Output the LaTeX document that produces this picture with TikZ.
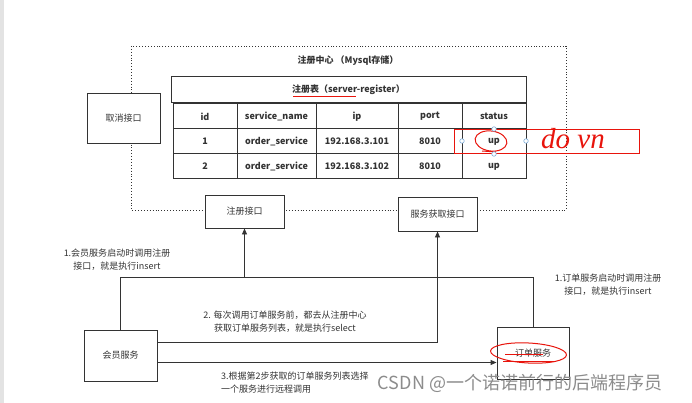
\documentclass[tikz,border=0pt]{standalone}
\usepackage{fontspec}
\setmainfont{Noto Sans CJK SC}
\newfontfamily\handfont{Liberation Serif}
\usetikzlibrary{arrows.meta,positioning}
\definecolor{LineGray}{HTML}{333333}
\definecolor{MarkRed}{HTML}{E8140C}
\definecolor{HandleBlue}{HTML}{7FAEDB}
\definecolor{WaterGray}{HTML}{8C8C8C}

\begin{document}
\begin{tikzpicture}[
    x=1pt, y=-1pt,
    box/.style={
      draw=LineGray,
      line width=0.9pt,
      fill=white,
      inner sep=0pt,
      align=center,
      text=LineGray,
      font=\fontsize{9}{11}\selectfont
    },
    cell/.style={
      draw=LineGray,
      line width=1pt,
      minimum height=25pt,
      inner sep=0pt,
      text=LineGray,
      font=\bfseries\fontsize{9}{11}\selectfont
    },
    note/.style={
      align=center,
      inner sep=0pt,
      text=LineGray,
      font=\fontsize{9}{13}\selectfont
    },
    arrow/.style={
      -{Triangle[length=6pt,width=5pt]},
      line width=0.9pt,
      color=LineGray
    },
    link/.style={
      line width=0.9pt,
      color=LineGray
    },
    redmark/.style={
      draw=MarkRed,
      line width=1pt
    },
    handle/.style={
      circle,
      draw=HandleBlue,
      fill=white,
      line width=0.6pt,
      inner sep=0pt,
      minimum size=4.5pt
    }
  ]

  \useasboundingbox (0,0) rectangle (692,403);
  \fill[gray!22] (0,0) rectangle (4,403);

  % Registry frame
  \draw[dotted, line width=0.9pt, color=LineGray] (131,46) rectangle (566,210);
  \node[font=\bfseries\fontsize{9}{11}\selectfont, text=LineGray] (title) at (348,61) {注册中心 （Mysql存储）};

  % Table
  \node[cell, minimum width=355pt, minimum height=26pt] (tbl) at (348.5,90) {注册表（server-register）};
  \foreach \col/\cx/\w/\head/\va/\vb in {
      id/205/64/id/1/2,
      name/276.5/79/service\_name/order\_service/order\_service,
      ip/357/82/ip/192.168.3.101/192.168.3.102,
      port/430/64/port/8010/8010,
      status/494/64/status/up/up}{
    \node[cell, minimum width=\w pt] (\col-h) at (\cx,116.5) {\head};
    \node[cell, minimum width=\w pt] (\col-1) at (\cx,141.5) {\va};
    \node[cell, minimum width=\w pt] (\col-2) at (\cx,166.5) {\vb};
  }

  % Interfaces
  \node[box, minimum width=73pt, minimum height=50pt] (cancel) at (123.5,118) {取消接口};
  \node[box, minimum width=79pt, minimum height=33pt] (reg) at (244.5,211.5) {注册接口};
  \node[box, minimum width=79pt, minimum height=34pt] (fetch) at (437.5,214) {服务获取接口};

  % Services
  \node[box, minimum width=73pt, minimum height=51pt] (member) at (120.5,355.5) {会员服务};
  \node[box, minimum width=72pt, minimum height=52pt] (order) at (533,353) {订单服务};

  % Connectors
  \coordinate (join) at (reg.south |- 0,277);
  \draw[arrow] (member.north) |- (join) -- (reg.south);
  \draw[link] (order.north) |- (join);
  \draw[arrow] ([yshift=13pt]member.east) -| (fetch.south);
  \draw[arrow] ([yshift=-7pt]member.east) -- ([yshift=-7pt]member.east -| order.west);

  % Notes
  \node[note] (n1) at (117,259.5) {1.会员服务启动时调用注册\\接口，就是执行insert};
  \node[note] (n2) at (608,284.5) {1.订单服务启动时调用注册\\接口，就是执行insert};
  \node[note] (n3) at (285,321.5) {2. 每次调用订单服务前，都去从注册中心\\获取订单服务列表，就是执行select};
  \node[note, align=left, anchor=west] (n4) at (221,382.5) {3.根据第2步获取的订单服务列表选择\\一个服务进行远程调用};

  % Red marks
  \draw[redmark] (293,97) -- (356,97);
  \draw[redmark, line width=0.8pt] (454,129) rectangle (639,153);
  \draw[redmark, rotate around={-8:(491,141)}] (491,141) ellipse (16pt and 10pt);
  \draw[redmark] (482,151) -- (496,152);
  \node[handle] (hl) at (462,141) {};
  \node[handle] (hr) at (526,141) {};
  \node[handle] (ht) at (494,129) {};
  \node[handle] (hb) at (494,154) {};
  \node[text=MarkRed, font=\handfont\itshape\fontsize{29}{29}\selectfont] (down) at (573,139) {do vn};
  \draw[redmark, rotate around={-3:(528.5,353)}] (528.5,353) ellipse (38pt and 10pt);
  \draw[redmark] (505,354) -- (543,354);
  \draw[redmark] (503,361.5) -- (554,361.5);

  % Watermark
  \node[text=WaterGray, font=\fontsize{18}{18}\selectfont] (wm) at (520,383) {CSDN @一个诺诺前行的后端程序员};

\end{tikzpicture}
\end{document}
